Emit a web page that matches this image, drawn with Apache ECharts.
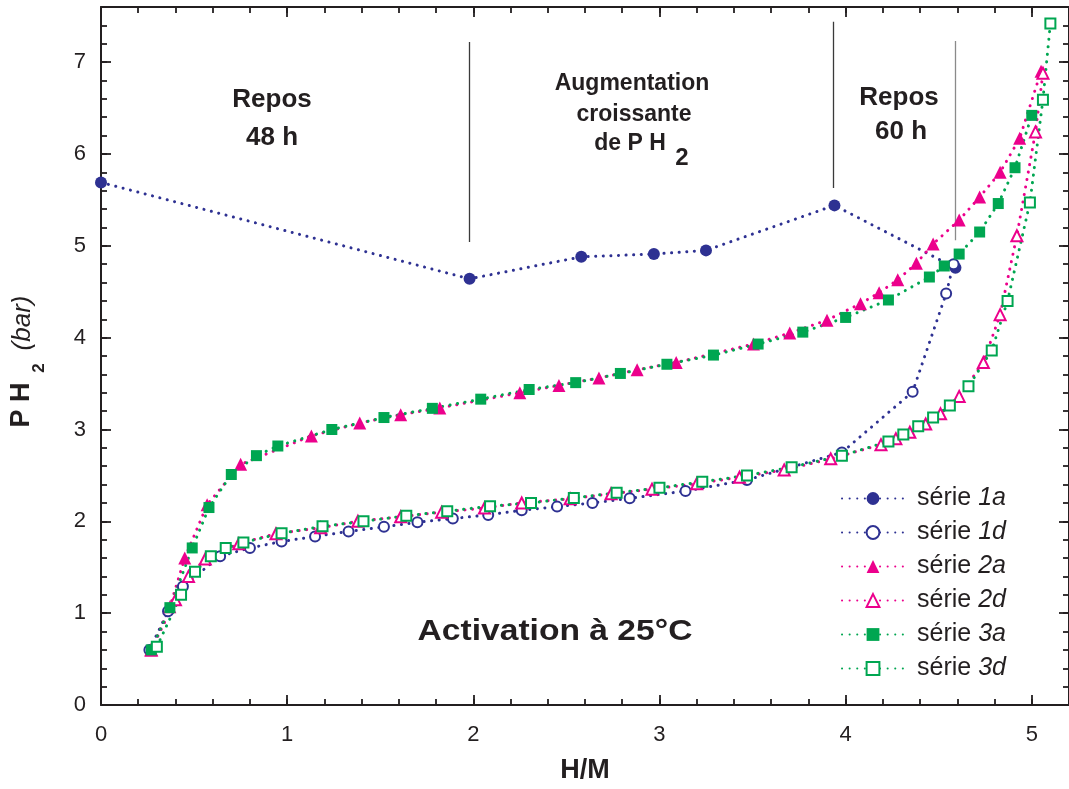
<!DOCTYPE html>
<html><head><meta charset="utf-8">
<script src="https://cdn.jsdelivr.net/npm/echarts@6/dist/echarts.min.js"></script>
<style>html,body{margin:0;padding:0;background:#fff}#c{width:1069px;height:789px}</style>
</head><body><div id="c"></div>
<script>
// ---- data (H/M , P H2 in bar) ----
const xRange = [0, 5.2];
const yRange = [0, 7.6];
const xMajor = 1, xMinor = 0.2, yMajor = 1, yMinor = 0.2;

const seriesNames = ['série 1a', 'série 1d', 'série 2a', 'série 2d', 'série 3a', 'série 3d'];

const s1a = [[0,5.69],[1.98,4.64],[2.58,4.88],[2.97,4.91],[3.25,4.95],[3.94,5.44],[4.59,4.76]];
const s1d = [[0.26,0.60],[0.36,1.02],[0.44,1.29],[0.64,1.62],[0.80,1.71],[0.97,1.78],[1.15,1.835],[1.33,1.89],[1.52,1.94],[1.70,1.99],[1.89,2.03],[2.08,2.07],[2.26,2.12],[2.45,2.16],[2.64,2.20],[2.84,2.25],[3.14,2.33],[3.47,2.45],[3.98,2.75],[4.36,3.41],[4.54,4.48],[4.58,4.80]];
const s2a = [[0.27,0.60],[0.37,1.07],[0.45,1.60],[0.57,2.18],[0.75,2.62],[1.13,2.93],[1.39,3.07],[1.61,3.16],[1.82,3.235],[2.25,3.40],[2.46,3.48],[2.675,3.56],[2.88,3.65],[3.09,3.73],[3.505,3.93],[3.70,4.05],[3.90,4.19],[4.08,4.37],[4.18,4.49],[4.28,4.63],[4.38,4.81],[4.47,5.02],[4.61,5.28],[4.72,5.53],[4.83,5.80],[4.935,6.17],[5.05,6.90]];
const s2d = [[0.27,0.60],[0.40,1.145],[0.47,1.40],[0.56,1.59],[0.74,1.756],[0.94,1.865],[1.18,1.93],[1.38,2.00],[1.61,2.05],[1.83,2.10],[2.06,2.145],[2.26,2.20],[2.52,2.245],[2.74,2.30],[2.96,2.35],[3.20,2.41],[3.43,2.48],[3.67,2.56],[3.92,2.68],[4.19,2.835],[4.27,2.90],[4.345,2.97],[4.43,3.06],[4.51,3.17],[4.61,3.36],[4.74,3.73],[4.83,4.25],[4.92,5.11],[5.02,6.24],[5.06,6.88]];
const s3a = [[0.27,0.60],[0.37,1.06],[0.49,1.71],[0.58,2.15],[0.70,2.51],[0.835,2.715],[0.95,2.82],[1.24,3.00],[1.52,3.13],[1.78,3.23],[2.04,3.33],[2.30,3.435],[2.55,3.51],[2.79,3.61],[3.04,3.71],[3.29,3.81],[3.53,3.93],[3.77,4.06],[4.00,4.22],[4.23,4.41],[4.45,4.66],[4.53,4.78],[4.61,4.91],[4.72,5.15],[4.82,5.46],[4.91,5.85],[5.00,6.42]];
const s3d = [[0.30,0.635],[0.43,1.20],[0.505,1.45],[0.59,1.62],[0.67,1.71],[0.765,1.77],[0.97,1.87],[1.19,1.945],[1.41,2.00],[1.64,2.06],[1.86,2.11],[2.09,2.165],[2.31,2.20],[2.54,2.255],[2.77,2.31],[3.00,2.365],[3.23,2.43],[3.47,2.50],[3.71,2.59],[3.98,2.715],[4.23,2.87],[4.31,2.945],[4.39,3.035],[4.47,3.13],[4.56,3.26],[4.66,3.47],[4.785,3.86],[4.87,4.40],[4.99,5.47],[5.06,6.59],[5.10,7.42]];

// annotation separators: [x, yTop, yBottom]
const separators = [[1.978, 7.22, 5.04], [3.936, 7.44, 5.63], [4.588, 7.23, 5.06]];

// ---- styling ----
const INK = '#231f20';
const NAVY = '#2e3192', PINK = '#ec008c', GREEN = '#00a651';
const FONT = '"Liberation Sans", Arial, sans-serif';

function mkSeries(name, data, symbol, color, size, empty) {
  return {
    name, type: 'line', data, symbol, symbolSize: size,
    xAxisIndex: 0, yAxisIndex: 0,
    lineStyle: { color, width: 3, type: [0.1, 7.5], cap: 'round' },
    itemStyle: { color, borderColor: color, borderWidth: empty ? 2 : 0 },
    emphasis: { disabled: true },
    z: 3
  };
}

function xAx(pos, interval, major, extra) {
  return Object.assign({
    type: 'value', position: pos, min: xRange[0], max: xRange[1], interval,
    axisLine: { show: major, onZero: false, lineStyle: { color: INK, width: 2 } },
    axisTick: { show: true, inside: true, length: major ? 10 : 6, lineStyle: { color: INK, width: 1.8 } },
    axisLabel: { show: false },
    splitLine: { show: false }
  }, extra || {});
}
function yAx(pos, interval, major, extra) {
  return Object.assign({
    type: 'value', position: pos, min: yRange[0], max: yRange[1], interval,
    axisLine: { show: major, onZero: false, lineStyle: { color: INK, width: 2 } },
    axisTick: { show: true, inside: true, length: major ? 10 : 6, lineStyle: { color: INK, width: 1.8 } },
    axisLabel: { show: false },
    splitLine: { show: false }
  }, extra || {});
}

const chart = echarts.init(document.getElementById('c'), null, { renderer: 'canvas' });

const option = {
  animation: false,
  backgroundColor: '#fff',
  textStyle: { fontFamily: FONT, color: INK },
  grid: { left: 101, top: 7, width: 969, height: 698, containLabel: false },
  xAxis: [
    xAx('bottom', xMajor, true, {
      axisLabel: { show: true, fontSize: 22, color: INK, margin: 19, showMaxLabel: false, fontFamily: FONT },
      name: 'H/M', nameLocation: 'middle', nameGap: 52,
      nameTextStyle: { fontSize: 27, fontWeight: 'bold', color: INK, fontFamily: FONT }
    }),
    xAx('bottom', xMinor, false),
    xAx('top', xMajor, true),
    xAx('top', xMinor, false)
  ],
  yAxis: [
    yAx('left', yMajor, true, {
      axisLabel: { show: true, fontSize: 22, color: INK, margin: 15, showMaxLabel: false, fontFamily: FONT }
    }),
    yAx('left', yMinor, false),
    yAx('right', yMajor, true),
    yAx('right', yMinor, false)
  ],
  legend: {
    data: seriesNames,
    orient: 'vertical', left: 836, top: 481,
    itemWidth: 62, itemHeight: 16, itemGap: 9,
    selectedMode: false,
    formatter: function (n) {
      const parts = n.split(' ');
      return '{n|' + parts[0] + ' }{i|' + parts[1] + '}';
    },
    textStyle: {
      color: INK,
      rich: {
        n: { fontSize: 25, fontFamily: FONT, color: INK, padding: [0, 0, 0, 8], lineHeight: 24 },
        i: { fontSize: 25, fontFamily: FONT, fontStyle: 'italic', color: INK, lineHeight: 24 }
      }
    }
  },
  series: [
    mkSeries(seriesNames[0], s1a, 'circle', NAVY, 12, false),
    mkSeries(seriesNames[1], s1d, 'emptyCircle', NAVY, 10, true),
    mkSeries(seriesNames[2], s2a, 'triangle', PINK, 13, false),
    mkSeries(seriesNames[3], s2d, 'emptyTriangle', PINK, 11, true),
    mkSeries(seriesNames[4], s3a, 'rect', GREEN, 11, false),
    mkSeries(seriesNames[5], s3d, 'emptyRect', GREEN, 10, true),
    {
      name: 'separators', type: 'lines', coordinateSystem: 'cartesian2d',
      xAxisIndex: 0, yAxisIndex: 0, silent: true, z: 1,
      data: separators.map((s, i) => ({
        coords: [[s[0], s[1]], [s[0], s[2]]],
        lineStyle: { color: i === 2 ? '#8a8a8a' : '#3a3a3a', width: 1.3, opacity: 1 }
      })),
      lineStyle: { width: 1.3 }
    }
  ],
  graphic: [
    // y-axis title
    { type: 'text', x: 22, y: 405, rotation: Math.PI / 2, style: { text: 'P H', font: 'bold 27px ' + FONT, fill: INK, align: 'center', verticalAlign: 'middle' } },
    { type: 'text', x: 39, y: 368, rotation: Math.PI / 2, style: { text: '2', font: 'bold 17px ' + FONT, fill: INK, align: 'center', verticalAlign: 'middle' } },
    { type: 'text', x: 23, y: 323, rotation: Math.PI / 2, style: { text: '(bar)', font: 'italic 26px ' + FONT, fill: INK, align: 'center', verticalAlign: 'middle' } },
    // annotations
    { type: 'text', x: 272, y: 100, style: { text: 'Repos', font: 'bold 26px ' + FONT, fill: INK, align: 'center', verticalAlign: 'middle' } },
    { type: 'text', x: 272, y: 138, style: { text: '48 h', font: 'bold 26px ' + FONT, fill: INK, align: 'center', verticalAlign: 'middle' } },
    { type: 'text', x: 632, y: 84, style: { text: 'Augmentation', font: 'bold 23px ' + FONT, fill: INK, align: 'center', verticalAlign: 'middle' } },
    { type: 'text', x: 634, y: 115, style: { text: 'croissante', font: 'bold 23px ' + FONT, fill: INK, align: 'center', verticalAlign: 'middle' } },
    { type: 'text', x: 630, y: 144, style: { text: 'de P H', font: 'bold 23px ' + FONT, fill: INK, align: 'center', verticalAlign: 'middle' } },
    { type: 'text', x: 682, y: 158, style: { text: '2', font: 'bold 24px ' + FONT, fill: INK, align: 'center', verticalAlign: 'middle' } },
    { type: 'text', x: 899, y: 98, style: { text: 'Repos', font: 'bold 26px ' + FONT, fill: INK, align: 'center', verticalAlign: 'middle' } },
    { type: 'text', x: 901, y: 132, style: { text: '60 h', font: 'bold 26px ' + FONT, fill: INK, align: 'center', verticalAlign: 'middle' } },
    { type: 'text', x: 555, y: 632, scaleX: 1.12, style: { text: 'Activation à 25°C', font: 'bold 30px ' + FONT, fill: INK, align: 'center', verticalAlign: 'middle' } }
  ]
};
chart.setOption(option);
</script>
</body></html>
